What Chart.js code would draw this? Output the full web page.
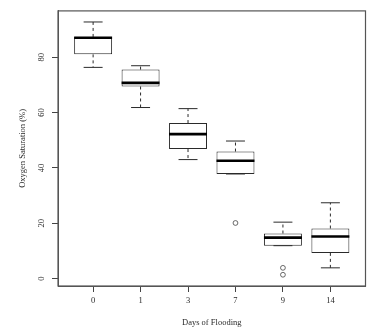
<!DOCTYPE html>
<html>
<head>
<meta charset="utf-8">
<script src="https://cdn.jsdelivr.net/npm/chart.js@4/dist/chart.umd.min.js"></script>
<style>
  body { margin: 0; background: #fff; }
  canvas { display: block; }
</style>
</head>
<body>
<canvas id="chart" width="377" height="331"></canvas>
<script>
// Days of flooding (categories) and box statistics
const days = ['0', '1', '3', '7', '9', '14'];
const whiskerLow = [76.3, 61.8, 43.0, 37.8, 11.9, 3.9];
const q1 = [81.0, 69.4, 46.8, 37.8, 11.9, 9.3];
const median = [87.0, 70.7, 52.2, 42.6, 14.8, 15.2];
const q3 = [87.3, 75.5, 56.2, 45.9, 16.3, 18.1];
const whiskerHigh = [92.7, 76.9, 61.4, 49.7, 20.4, 27.4];

// outliers
const outlierDay = ['7', '9', '9'];
const outlierValue = [20.1, 3.9, 1.4];

const yTicks = [0, 20, 40, 60, 80];

const serif = '"Liberation Serif", "Times New Roman", serif';
const ink = '#2a2a2a';

// whiskers, staples and medians drawn over the boxes
const boxplotPlugin = {
  id: 'boxplot',
  afterDatasetsDraw(chart) {
    const ctx = chart.ctx;
    const y = chart.scales.y;
    const boxes = chart.getDatasetMeta(0).data;
    ctx.save();
    boxes.forEach((bar, i) => {
      const cx = bar.x;
      const half = bar.width / 2;
      const yLo = y.getPixelForValue(whiskerLow[i]);
      const yHi = y.getPixelForValue(whiskerHigh[i]);
      const yQ1 = y.getPixelForValue(q1[i]);
      const yQ3 = y.getPixelForValue(q3[i]);
      const yMed = y.getPixelForValue(median[i]);

      // dashed whiskers
      ctx.strokeStyle = ink;
      ctx.lineWidth = 1;
      ctx.setLineDash([3, 3]);
      ctx.beginPath();
      ctx.moveTo(cx, yQ3);
      ctx.lineTo(cx, yHi);
      ctx.moveTo(cx, yQ1);
      ctx.lineTo(cx, yLo);
      ctx.stroke();

      // staples
      ctx.setLineDash([]);
      ctx.beginPath();
      ctx.moveTo(cx - half / 2, yHi);
      ctx.lineTo(cx + half / 2, yHi);
      ctx.moveTo(cx - half / 2, yLo);
      ctx.lineTo(cx + half / 2, yLo);
      ctx.stroke();

      // median
      ctx.strokeStyle = '#000';
      ctx.lineWidth = 2.6;
      ctx.beginPath();
      ctx.moveTo(cx - half, yMed);
      ctx.lineTo(cx + half, yMed);
      ctx.stroke();
    });

    // plot frame
    const a = chart.chartArea;
    ctx.strokeStyle = '#555';
    ctx.lineWidth = 1.2;
    ctx.strokeRect(a.left, a.top, a.right - a.left, a.bottom - a.top);
    ctx.restore();
  }
};

const ctx = document.getElementById('chart').getContext('2d');

new Chart(ctx, {
  data: {
    datasets: [
      {
        type: 'bar',
        data: days.map((d, i) => ({ x: i + 1, y: [q1[i], q3[i]] })),
        backgroundColor: '#fff',
        borderColor: ink,
        borderWidth: 1,
        borderSkipped: false,
        categoryPercentage: 1,
        barPercentage: 0.8,
      },
      {
        type: 'scatter',
        data: outlierDay.map((d, i) => ({ x: days.indexOf(d) + 1, y: outlierValue[i] })),
        pointStyle: 'circle',
        pointRadius: 2.4,
        backgroundColor: 'rgba(0,0,0,0)',
        borderColor: '#444',
        borderWidth: 0.8,
      },
    ],
  },
  options: {
    responsive: false,
    animation: false,
    layout: { padding: { top: 10, right: 11.5, left: 0, bottom: 0 } },
    plugins: {
      legend: { display: false },
      tooltip: { enabled: false },
    },
    scales: {
      x: {
        type: 'linear',
        min: 0.26,
        max: 6.74,
        offset: false,
        afterFit: (scale) => { scale.height = 45; },
        afterBuildTicks: (scale) => {
          scale.ticks = days.map((d, i) => ({ value: i + 1 }));
        },
        grid: {
          offset: false,
          drawOnChartArea: false,
          drawTicks: true,
          tickLength: 6,
          color: '#444',
        },
        border: { color: '#555', width: 1 },
        ticks: {
          padding: 4,
          color: ink,
          font: { family: serif, size: 8.5 },
          callback: (v) => days[v - 1],
        },
        title: {
          display: true,
          text: 'Days of Flooding',
          color: ink,
          font: { family: serif, size: 8.5 },
          padding: { top: 0, bottom: 3.6 },
        },
      },
      y: {
        type: 'linear',
        min: -2.66,
        max: 96.7,
        afterFit: (scale) => { scale.width = 58; },
        afterBuildTicks: (scale) => {
          scale.ticks = yTicks.map((v) => ({ value: v }));
        },
        grid: {
          drawOnChartArea: false,
          drawTicks: true,
          tickLength: 6,
          color: '#444',
        },
        border: { color: '#555', width: 1 },
        ticks: {
          padding: 5.8,
          minRotation: 90,
          maxRotation: 90,
          crossAlign: 'center',
          color: ink,
          font: { family: serif, size: 8.5 },
        },
        title: {
          display: true,
          text: 'Oxygen Saturation (%)',
          color: ink,
          font: { family: serif, size: 8.5 },
          padding: { top: 17.4, bottom: 0 },
        },
      },
    },
  },
  plugins: [boxplotPlugin],
});
</script>
</body>
</html>
